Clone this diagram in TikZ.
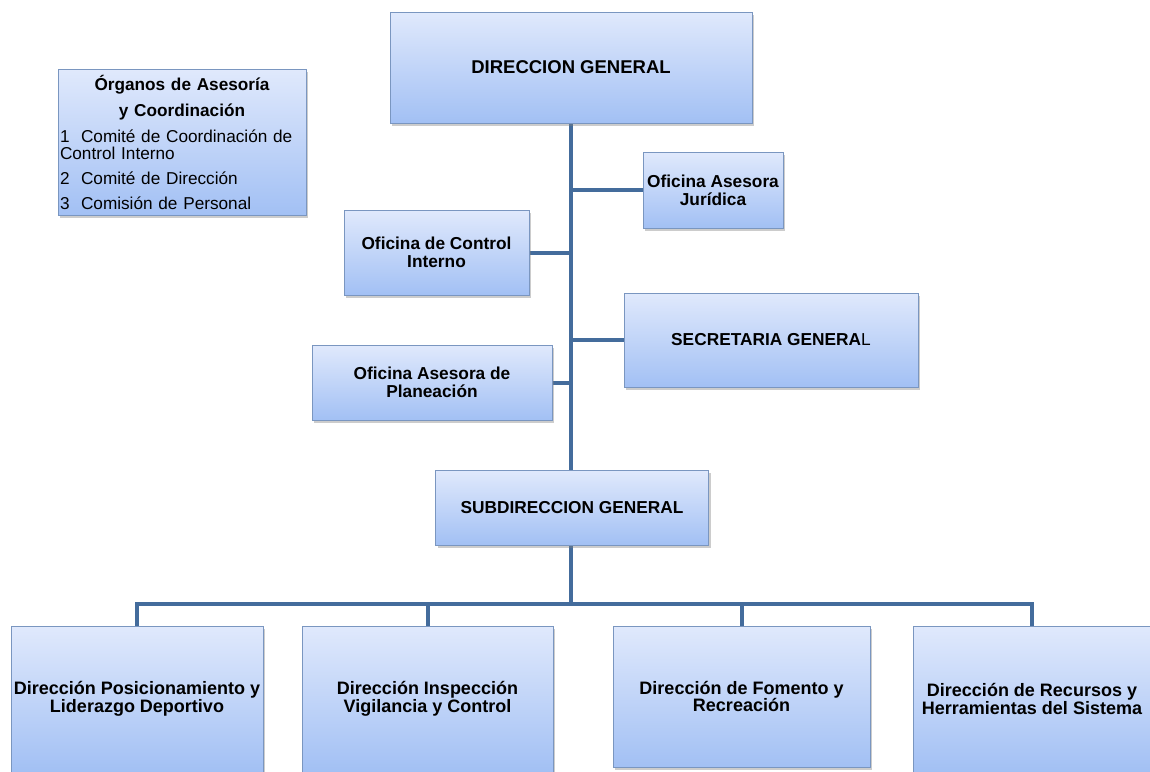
\documentclass[tikz,border=0pt]{standalone}
\usepackage{fontspec}
\setmainfont{Liberation Sans}
\usetikzlibrary{shadows,backgrounds}
\definecolor{linec}{RGB}{68,108,156}
\definecolor{boxtop}{RGB}{224,233,252}
\definecolor{boxbot}{RGB}{162,192,244}
\definecolor{boxdraw}{RGB}{122,150,192}
\begin{document}
\begin{tikzpicture}[x=1pt,y=-1pt,
  box/.style={draw=boxdraw, line width=1pt, top color=boxtop, bottom color=boxbot,
    drop shadow={opacity=0.4,shadow xshift=2pt,shadow yshift=-2.5pt},
    align=center, inner sep=0pt, font=\bfseries\fontsize{17.3}{18}\selectfont},
  conn/.style={draw=linec, line width=4pt}]
\useasboundingbox (0,0) rectangle (1150,771);
\clip (0,0) rectangle (1150,771);

% organs box
\node[box, minimum width=248pt, minimum height=146pt, text width=244pt, align=left,
  font=\fontsize{17.2}{17}\selectfont] (org) at (182,142)
  {{\bfseries\makebox[\linewidth][c]{Órganos de Asesoría}}\\[9pt]
   {\bfseries\makebox[\linewidth][c]{y Coordinación}}\\[9pt]
   1\ \ Comité de Coordinación\ de\\
   Control Interno\\[8pt]
   2\ \ Comité de Dirección\\[8pt]
   3\ \ Comisión de Personal};

\node[box, minimum width=362pt, minimum height=111pt, font=\bfseries\fontsize{18.5}{20}\selectfont] (dg) at (571,67.5) {DIRECCION GENERAL};
\node[box, minimum width=140pt, minimum height=76pt] (jur) at (713,190) {Oficina Asesora\\Jurídica};
\node[box, minimum width=185pt, minimum height=85pt] (ci) at (436.5,252.5) {Oficina de Control\\Interno};
\node[box, minimum width=294pt, minimum height=94pt] (sg) at (771,340) {SECRETARIA GENERA{\mdseries L}};
\node[box, minimum width=240pt, minimum height=75pt] (pl) at (432,382.5) {Oficina Asesora de\\Planeación};
\node[box, minimum width=273pt, minimum height=75pt] (sd) at (572,507.5) {SUBDIRECCION GENERAL};

\node[box, minimum width=252pt, minimum height=146pt, font=\bfseries\fontsize{18}{17.5}\selectfont] (b1) at (137,699) {Dirección Posicionamiento\ y\\Liderazgo Deportivo};
\node[box, minimum width=251pt, minimum height=146pt, font=\bfseries\fontsize{18}{17.5}\selectfont] (b2) at (427.5,699) {Dirección Inspección\\Vigilancia y Control};
\node[box, minimum width=257pt, minimum height=141pt, font=\bfseries\fontsize{18}{17.5}\selectfont] (b3) at (741.5,696.5) {Dirección de Fomento y\\Recreación};
\node[box, minimum width=238pt, minimum height=146pt, font=\bfseries\fontsize{18}{17.5}\selectfont] (b4) at (1032,699) {Dirección de Recursos y\\Herramientas del\ Sistema};

\coordinate (bus) at (571,604);

\begin{scope}[on background layer]
  \draw[conn] (dg.south) -- (sd.north -| dg.south);
  \draw[conn] (dg.south |- jur.west) -- (jur.west);
  \draw[conn] (ci.east) -- (ci.east -| dg.south);
  \draw[conn] (dg.south |- sg.west) -- (sg.west);
  \draw[conn] (pl.east) -- (pl.east -| dg.south);
  \draw[conn] (sd.south -| bus) -- (bus);
  \draw[conn, line join=miter] (b1.north) |- (bus) -| (b4.north);
  \draw[conn] (b2.north) -- (b2.north |- bus);
  \draw[conn] (b3.north) -- (b3.north |- bus);
\end{scope}
\end{tikzpicture}
\end{document}
